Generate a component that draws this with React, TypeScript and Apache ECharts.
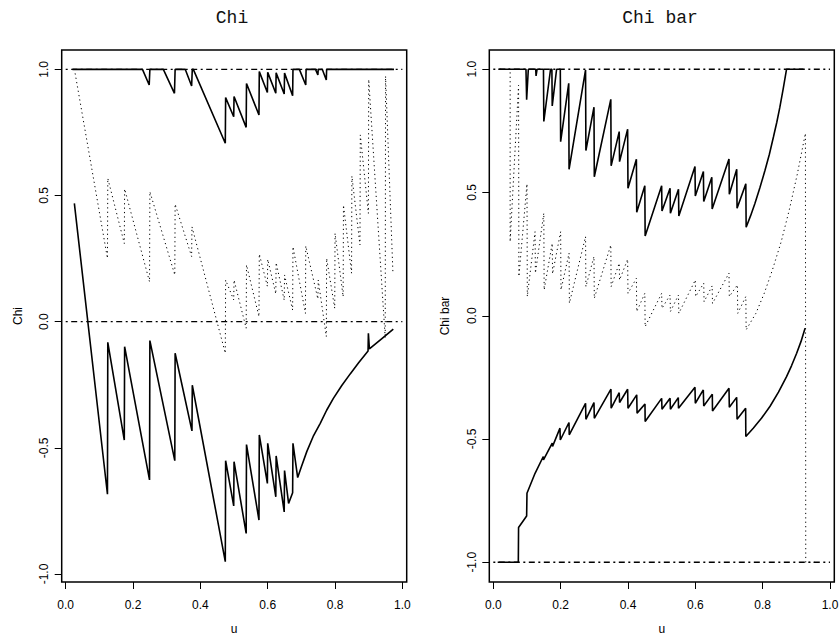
import React, { useEffect, useRef } from "react";
import * as echarts from "echarts";

// ---- tick values ----
const uTicks = [0, 0.2, 0.4, 0.6, 0.8, 1.0];
const yTicks = [-1, -0.5, 0, 0.5, 1];

// ---- Chi panel (left): [u, value] ----
const chiUpper: number[][] = [
  [0.02, 1], [0.228, 1], [0.248, 0.938], [0.25, 1], [0.29, 1], [0.323, 0.905], [0.325, 1],
  [0.355, 1], [0.374, 0.934], [0.376, 1], [0.379, 1], [0.474, 0.707], [0.475, 0.888],
  [0.499, 0.812], [0.5, 0.892], [0.536, 0.77], [0.537, 0.944], [0.574, 0.819], [0.575, 0.991],
  [0.599, 0.908], [0.6, 0.988], [0.624, 0.905], [0.625, 0.986], [0.649, 0.902], [0.65, 0.985],
  [0.674, 0.895], [0.675, 1], [0.694, 1], [0.713, 0.938], [0.714, 1], [0.742, 1], [0.749, 0.978],
  [0.75, 1], [0.762, 1], [0.774, 0.958], [0.775, 1], [0.975, 1],
];
const chiEstimate: number[][] = [
  [0.028, 0.984], [0.124, 0.251], [0.125, 0.568], [0.174, 0.31], [0.175, 0.526], [0.249, 0.158],
  [0.25, 0.515], [0.324, 0.185], [0.325, 0.466], [0.374, 0.258], [0.375, 0.376], [0.474, -0.125],
  [0.475, 0.165], [0.499, 0.086], [0.5, 0.165], [0.536, -0.026], [0.537, 0.225], [0.574, 0.02],
  [0.575, 0.268], [0.599, 0.14], [0.6, 0.247], [0.624, 0.11], [0.625, 0.234], [0.649, 0.085],
  [0.65, 0.185], [0.674, 0.046], [0.675, 0.297], [0.712, 0.033], [0.713, 0.3], [0.749, 0.09],
  [0.75, 0.165], [0.774, -0.059], [0.775, 0.251], [0.799, 0.053], [0.8, 0.35], [0.824, 0.099],
  [0.825, 0.462], [0.849, 0.192], [0.85, 0.577], [0.874, 0.304], [0.875, 0.74], [0.899, 0.429],
  [0.9, 0.96], [0.949, -0.065], [0.95, 0.973], [0.972, 0.19],
];
const chiLower: number[][] = [
  [0.0257, 0.469], [0.124, -0.684], [0.125, -0.082], [0.174, -0.469], [0.175, -0.099],
  [0.249, -0.627], [0.25, -0.075], [0.324, -0.551], [0.325, -0.125], [0.375, -0.433],
  [0.376, -0.252], [0.474, -0.951], [0.475, -0.551], [0.499, -0.73], [0.5, -0.555],
  [0.536, -0.839], [0.537, -0.487], [0.574, -0.786], [0.575, -0.449], [0.599, -0.641],
  [0.6, -0.482], [0.624, -0.694], [0.625, -0.532], [0.649, -0.754], [0.65, -0.59],
  [0.662, -0.72], [0.674, -0.678], [0.675, -0.482], [0.689, -0.618], [0.7, -0.575],
  [0.716, -0.515], [0.735, -0.455], [0.756, -0.403], [0.775, -0.351], [0.795, -0.304],
  [0.82, -0.253], [0.845, -0.207], [0.87, -0.163], [0.898, -0.116], [0.899, -0.046],
  [0.902, -0.108], [0.94, -0.066], [0.973, -0.03],
];
const chiRefLevels = [1, 0];

// ---- Chi bar panel (right): [u, value] ----
const chiBarUpper: number[][] = [
  [0.015, 1], [0.097, 1], [0.099, 0.876], [0.104, 1], [0.126, 1], [0.127, 0.973], [0.13, 1],
  [0.149, 1], [0.15, 0.788], [0.17, 1], [0.174, 1], [0.175, 0.851], [0.188, 1], [0.199, 1],
  [0.2, 0.706], [0.224, 0.943], [0.225, 0.594], [0.274, 0.997], [0.275, 0.67], [0.299, 0.846],
  [0.3, 0.564], [0.349, 0.878], [0.35, 0.608], [0.374, 0.747], [0.375, 0.625], [0.399, 0.757],
  [0.4, 0.517], [0.425, 0.635], [0.426, 0.42], [0.45, 0.527], [0.451, 0.324], [0.5, 0.527],
  [0.501, 0.425], [0.525, 0.517], [0.526, 0.416], [0.55, 0.513], [0.551, 0.405], [0.599, 0.605],
  [0.6, 0.486], [0.624, 0.585], [0.625, 0.463], [0.649, 0.562], [0.65, 0.433], [0.7, 0.636],
  [0.701, 0.493], [0.723, 0.594], [0.724, 0.436], [0.75, 0.535], [0.751, 0.359], [0.764, 0.405],
  [0.777, 0.455], [0.792, 0.52], [0.807, 0.59], [0.82, 0.655], [0.832, 0.725], [0.842, 0.785],
  [0.851, 0.845], [0.861, 0.92], [0.871, 1], [0.921, 1],
];
const chiBarEstimate: number[][] = [
  [0.02, 1], [0.05, 1], [0.05, 0.3], [0.075, 0.935], [0.076, 0.159], [0.1, 0.535], [0.101, 0.078],
  [0.124, 0.341], [0.125, 0.173], [0.15, 0.416], [0.151, 0.105], [0.175, 0.294], [0.176, 0.17],
  [0.2, 0.341], [0.201, 0.105], [0.225, 0.254], [0.226, 0.051], [0.274, 0.321], [0.275, 0.118],
  [0.299, 0.24], [0.3, 0.071], [0.349, 0.287], [0.35, 0.118], [0.374, 0.213], [0.375, 0.145],
  [0.399, 0.229], [0.4, 0.091], [0.425, 0.152], [0.426, 0.017], [0.45, 0.091], [0.451, -0.044],
  [0.5, 0.091], [0.501, 0.03], [0.525, 0.084], [0.526, 0.017], [0.55, 0.084], [0.551, 0.01],
  [0.6, 0.145], [0.601, 0.078], [0.625, 0.132], [0.626, 0.057], [0.65, 0.121], [0.651, 0.05],
  [0.7, 0.173], [0.701, 0.078], [0.725, 0.125], [0.726, 0.01], [0.75, 0.078], [0.751, -0.057],
  [0.78, 0.01], [0.805, 0.092], [0.829, 0.186], [0.855, 0.3], [0.879, 0.429], [0.903, 0.575],
  [0.927, 0.74], [0.928, -1], [0.96, -1],
];
const chiBarLower: number[][] = [
  [0.013, -1], [0.0743, -1], [0.075, -0.859], [0.099, -0.812], [0.1, -0.72], [0.124, -0.639],
  [0.1485, -0.571], [0.149, -0.585], [0.175, -0.517], [0.176, -0.53], [0.198, -0.456],
  [0.199, -0.504], [0.2248, -0.433], [0.2255, -0.483], [0.274, -0.355], [0.275, -0.42],
  [0.299, -0.352], [0.3, -0.416], [0.3495, -0.298], [0.35, -0.375], [0.374, -0.312],
  [0.375, -0.352], [0.399, -0.298], [0.4, -0.375], [0.426, -0.321], [0.427, -0.395],
  [0.4505, -0.358], [0.451, -0.429], [0.5, -0.335], [0.501, -0.379], [0.525, -0.335],
  [0.526, -0.379], [0.5495, -0.332], [0.55, -0.375], [0.599, -0.29], [0.6, -0.355],
  [0.6237, -0.301], [0.625, -0.366], [0.6505, -0.318], [0.651, -0.386], [0.7, -0.294],
  [0.701, -0.371], [0.7228, -0.331], [0.724, -0.42], [0.7495, -0.375], [0.75, -0.49],
  [0.772, -0.456], [0.797, -0.415], [0.822, -0.367], [0.847, -0.31], [0.871, -0.247],
  [0.886, -0.202], [0.901, -0.152], [0.914, -0.104], [0.926, -0.051],
];
const chiBarRefLevels = [1, -1];

const SANS = "'Liberation Sans', Arial, sans-serif";
const MONO = "'Liberation Mono', 'Courier New', monospace";
const DOTTED = [1.2, 3.2];
const DOTDASH = [2, 3.5, 6, 3.5];

function xAxisCfg(gi: number) {
  return {
    type: "value",
    gridIndex: gi,
    min: -0.0119,
    max: 1.0128,
    name: "u",
    nameLocation: "middle",
    nameGap: 41,
    nameTextStyle: { color: "#000", fontSize: 12, fontFamily: SANS },
    axisLine: { show: false, onZero: false },
    axisTick: { show: true, length: 7, customValues: uTicks, lineStyle: { color: "#000", width: 1 } },
    axisLabel: {
      customValues: uTicks,
      formatter: (v: number) => v.toFixed(1),
      margin: 17,
      color: "#000",
      fontSize: 12,
      fontFamily: SANS,
    },
    splitLine: { show: false },
  };
}

function yAxisCfg(gi: number, name: string, min: number, max: number) {
  return {
    type: "value",
    gridIndex: gi,
    min,
    max,
    name,
    nameLocation: "middle",
    nameGap: 38,
    nameTextStyle: { color: "#000", fontSize: 12, fontFamily: SANS },
    axisLine: { show: false, onZero: false },
    axisTick: { show: true, length: 7, customValues: yTicks, lineStyle: { color: "#000", width: 1 } },
    axisLabel: {
      customValues: yTicks,
      rotate: 90,
      formatter: (v: number) => v.toFixed(1),
      margin: 11.5,
      color: "#000",
      fontSize: 12,
      fontFamily: SANS,
    },
    splitLine: { show: false },
  };
}

function lineSeries(data: number[][], idx: number, type: any, width: number) {
  return {
    type: "line",
    xAxisIndex: idx,
    yAxisIndex: idx,
    data,
    showSymbol: false,
    symbol: "none",
    silent: true,
    clip: true,
    lineStyle: { color: "#000", width, type },
  };
}

function refSeries(level: number, idx: number) {
  return lineSeries([[0, level], [1, level]], idx, DOTDASH, 1.4);
}

export default function App() {
  const ref = useRef<HTMLDivElement>(null);
  useEffect(() => {
    if (!ref.current) return;
    const chart = echarts.init(ref.current, null, { renderer: "svg" });
    const option: any = {
      animation: false,
      backgroundColor: "#fff",
      grid: [
        { left: 61.7, top: 50, width: 345, height: 532, show: true, borderColor: "#000", borderWidth: 1.5, containLabel: false, outerBoundsMode: "none" },
        { left: 489.3, top: 50, width: 345, height: 532, show: true, borderColor: "#000", borderWidth: 1.5, containLabel: false, outerBoundsMode: "none" },
      ],
      xAxis: [xAxisCfg(0), xAxisCfg(1)],
      yAxis: [yAxisCfg(0, "Chi", -1.0317, 1.0766), yAxisCfg(1, "Chi bar", -1.08, 1.078)],
      graphic: [
        { type: "text", x: 232, y: 18, style: { text: "Chi", font: `18px ${MONO}`, fill: "#111", textAlign: "center", textVerticalAlign: "middle" } },
        { type: "text", x: 660, y: 18, style: { text: "Chi bar", font: `18px ${MONO}`, fill: "#111", textAlign: "center", textVerticalAlign: "middle" } },
      ],
      series: [
        ...chiRefLevels.map((l) => refSeries(l, 0)),
        lineSeries(chiEstimate, 0, DOTTED, 1),
        lineSeries(chiUpper, 0, "solid", 1.6),
        lineSeries(chiLower, 0, "solid", 1.6),
        ...chiBarRefLevels.map((l) => refSeries(l, 1)),
        lineSeries(chiBarEstimate, 1, DOTTED, 1),
        lineSeries(chiBarUpper, 1, "solid", 1.6),
        lineSeries(chiBarLower, 1, "solid", 1.6),
      ],
    };
    chart.setOption(option);
    return () => chart.dispose();
  }, []);
  return (
    <div
      ref={ref}
      style={{ position: "absolute", left: 0, top: 0, width: 840, height: 639, background: "#fff" }}
    />
  );
}
